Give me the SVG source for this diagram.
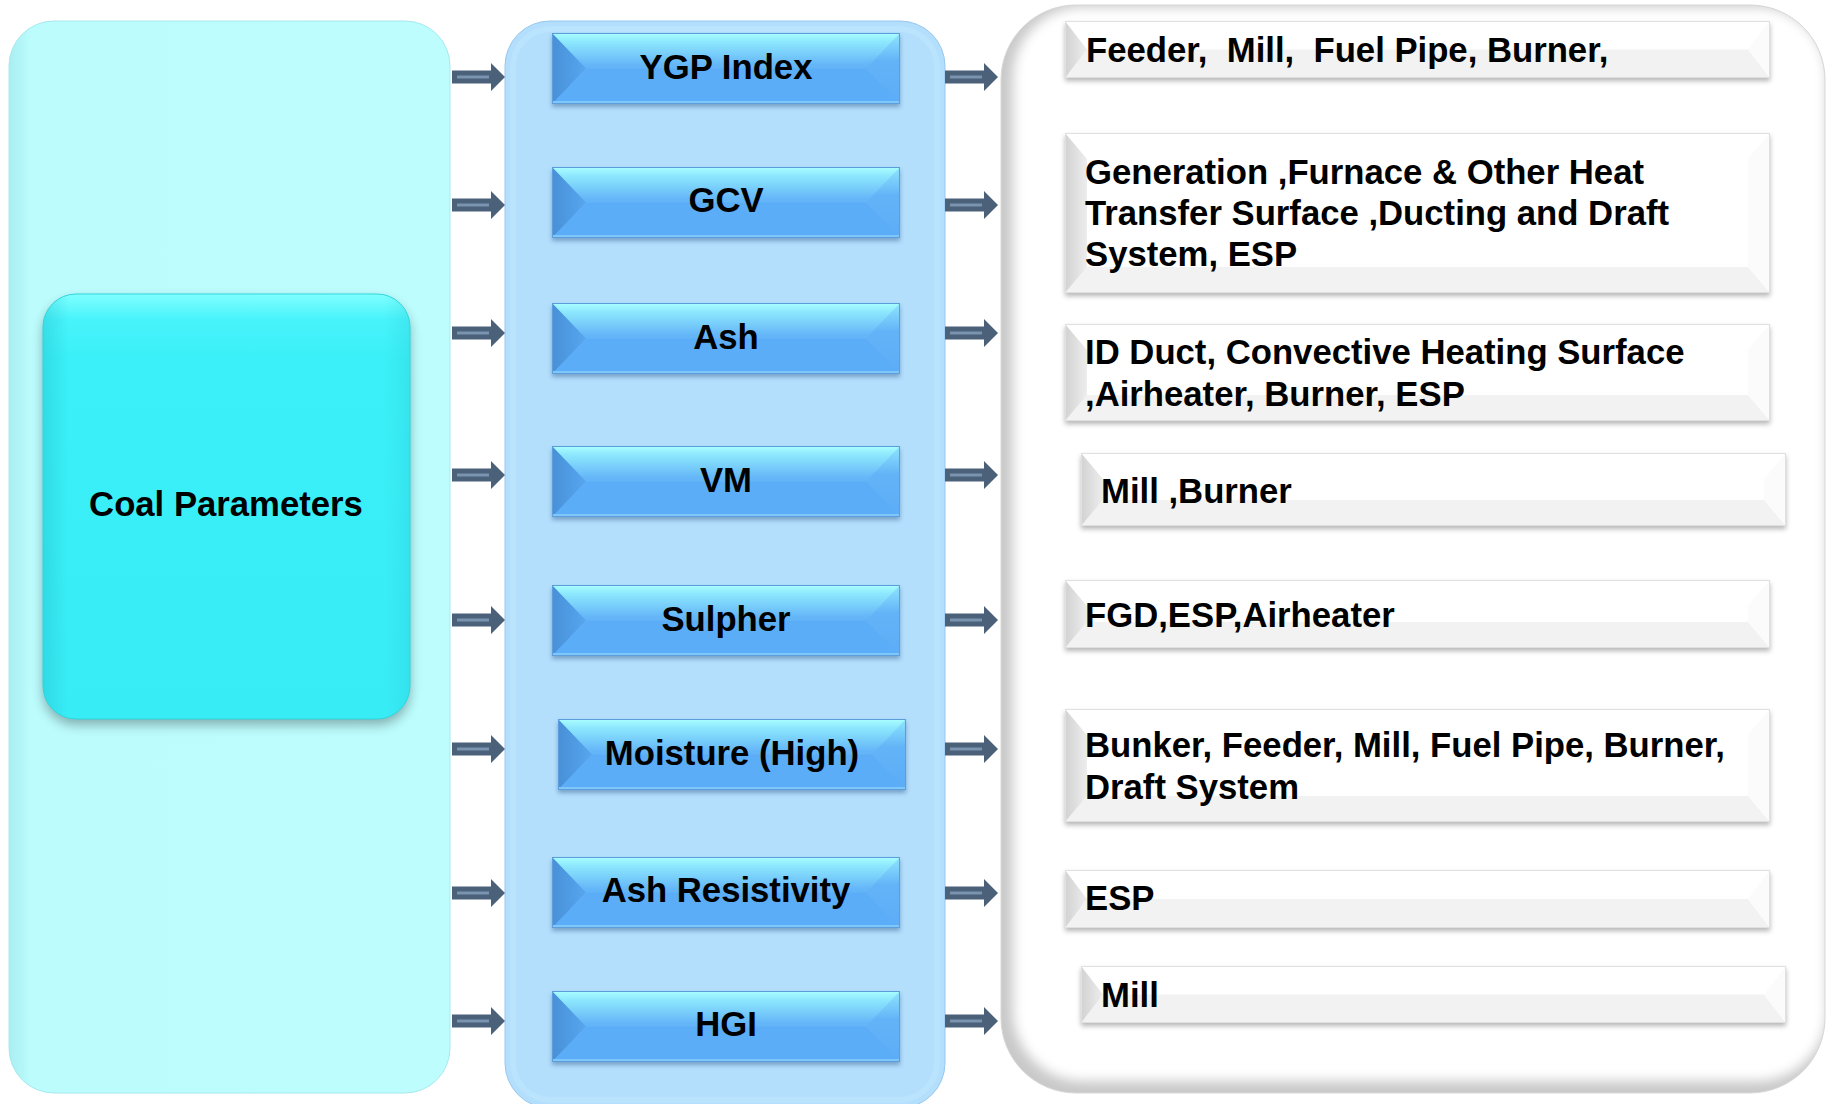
<svg xmlns="http://www.w3.org/2000/svg" xmlns:xlink="http://www.w3.org/1999/xlink" width="1827" height="1104" viewBox="0 0 1827 1104">
  <style>
    .lbl { font-family: "Liberation Sans", Arial, Helvetica, sans-serif; font-weight: 700; font-size: 34.7px; fill: #000; white-space: pre; }
    .mid { text-anchor: middle; }
    .wbase { fill: #ffffff; }
    .wbot { fill: #f2f2f2; }
    .wleft { fill: url(#gWL); }
    .wright { fill: #fbfbfb; }
    .wedge { fill: none; stroke: #e0e0e0; stroke-width: 1; }
    .wshadow { fill: #7a7a7a; opacity: 0.55; filter: url(#blur3); }
  </style>
  <defs>
    <filter id="blur2" x="-10%" y="-30%" width="120%" height="160%"><feGaussianBlur stdDeviation="2"/></filter>
    <filter id="blur3" x="-10%" y="-30%" width="120%" height="160%"><feGaussianBlur stdDeviation="2.5"/></filter>
    <filter id="blur6" x="-10%" y="-10%" width="120%" height="120%"><feGaussianBlur stdDeviation="6"/></filter>

    <!-- blue bevel buttons -->
    <linearGradient id="gBlue" x1="0" y1="0" x2="0" y2="1">
      <stop offset="0" stop-color="#abffff"/>
      <stop offset="0.12" stop-color="#8ee8fd"/>
      <stop offset="0.45" stop-color="#64b6f8"/>
      <stop offset="1" stop-color="#5aabf6"/>
    </linearGradient>
    <linearGradient id="gBlueL" x1="0" y1="0" x2="1" y2="0">
      <stop offset="0" stop-color="#4890d8"/>
      <stop offset="1" stop-color="#57a6ee"/>
    </linearGradient>
    <linearGradient id="gBlueR" x1="0" y1="0" x2="0" y2="1">
      <stop offset="0" stop-color="#8fe6fd"/>
      <stop offset="0.4" stop-color="#62b3f7"/>
      <stop offset="1" stop-color="#5cadf6"/>
    </linearGradient>
    <!-- white bevel boxes -->
    <linearGradient id="gWL" x1="0" y1="0" x2="1" y2="0">
      <stop offset="0" stop-color="#d2d2d2"/>
      <stop offset="1" stop-color="#ededed"/>
    </linearGradient>
    <!-- coal parameters tile -->
    <linearGradient id="gCoal" x1="0" y1="0" x2="0" y2="1">
      <stop offset="0" stop-color="#80ffff"/>
      <stop offset="0.06" stop-color="#48f3fb"/>
      <stop offset="0.15" stop-color="#3bf0f8"/>
      <stop offset="1" stop-color="#38ecf6"/>
    </linearGradient>
    <linearGradient id="gCoalSide" x1="0" y1="0" x2="1" y2="0">
      <stop offset="0" stop-color="#1fb8c4" stop-opacity="0.35"/>
      <stop offset="0.07" stop-color="#1fb8c4" stop-opacity="0"/>
      <stop offset="0.93" stop-color="#1fb8c4" stop-opacity="0"/>
      <stop offset="1" stop-color="#1fb8c4" stop-opacity="0.2"/>
    </linearGradient>
    <linearGradient id="gLeftPanel" x1="0" y1="0" x2="1" y2="0">
      <stop offset="0" stop-color="#a9eef2"/>
      <stop offset="0.05" stop-color="#bcfcfd"/>
      <stop offset="1" stop-color="#bdfdfd"/>
    </linearGradient>

    <clipPath id="clipRight">
      <rect x="1001" y="5" width="824" height="1088" rx="75"/>
    </clipPath>

    <!-- block arrow, tail at origin, centred on y=0 -->
    <g id="arrow">
      <path d="M0,-6.5 H39 V-14 L53,0 L39,14 V6.5 H0 Z" fill="#4b6079"/>
      <path d="M5,0 H37" stroke="#7a93b0" stroke-width="3" fill="none"/>
    </g>

    <!-- 348 x 71 bevelled button -->
    <g id="bluebox">
      <rect x="0" y="3" width="348" height="71" fill="#2f5a8a" opacity="0.45" filter="url(#blur2)"/>
      <rect x="0" y="0" width="348" height="71" fill="url(#gBlue)"/>
      <polygon points="0,0 34,35.5 0,71" fill="url(#gBlueL)"/>
      <polygon points="348,0 314,35.5 348,71" fill="url(#gBlueR)"/>
      <polygon points="0,71 34,35.5 314,35.5 348,71" fill="#5cadf7"/>
      <rect x="0" y="68" width="348" height="3" fill="#7fc7fb"/>
      <rect x="0.5" y="0.5" width="347" height="70" fill="none" stroke="#5b9edb" stroke-width="1"/>
    </g>
  </defs>

  <rect width="1827" height="1104" fill="#ffffff"/>

  <!-- column backgrounds -->
  <g id="panel-left">
    <rect x="9" y="21" width="441" height="1072" rx="45" fill="url(#gLeftPanel)" stroke="#a6e9ee" stroke-width="1"/>
  </g>
  <g id="panel-middle">
    <rect x="505" y="21" width="440" height="1087" rx="45" fill="#b3defc" stroke="#98c8ee" stroke-width="1"/>
    <rect x="513" y="29" width="424" height="1071" rx="38" fill="none" stroke="#bee5fe" stroke-width="6" opacity="0.7"/>
  </g>
  <g id="panel-right">
    <rect x="1001" y="5" width="824" height="1088" rx="75" fill="#c9c9c9"/>
    <g clip-path="url(#clipRight)">
      <rect x="1013" y="7" width="814" height="1074" rx="70" fill="#ffffff" filter="url(#blur6)"/>
    </g>
    <rect x="1001" y="5" width="824" height="1088" rx="75" fill="none" stroke="#d8d8d8" stroke-width="1"/>
  </g>

  <!-- source node -->
  <g id="n-coal">
    <rect x="43" y="300" width="367" height="425" rx="33" fill="#000" opacity="0.3" filter="url(#blur6)"/>
    <rect x="43" y="294" width="367" height="425" rx="33" fill="url(#gCoal)"/>
    <rect x="43" y="294" width="367" height="425" rx="33" fill="url(#gCoalSide)"/>
    <rect x="43" y="294" width="367" height="425" rx="33" fill="none" stroke="#2fd6e0" stroke-width="1"/>
    <text class="lbl mid" x="226" y="516">Coal Parameters</text>
  </g>

  <!-- parameter buttons -->
  <g id="n-ygp" transform="translate(552,33)">
    <use href="#bluebox"/>
    <text class="lbl mid" x="174" y="46">YGP Index</text>
  </g>
  <g id="n-gcv" transform="translate(552,167)">
    <use href="#bluebox"/>
    <text class="lbl mid" x="174" y="45">GCV</text>
  </g>
  <g id="n-ash" transform="translate(552,303)">
    <use href="#bluebox"/>
    <text class="lbl mid" x="174" y="46">Ash</text>
  </g>
  <g id="n-vm" transform="translate(552,446)">
    <use href="#bluebox"/>
    <text class="lbl mid" x="174" y="46">VM</text>
  </g>
  <g id="n-sulpher" transform="translate(552,585)">
    <use href="#bluebox"/>
    <text class="lbl mid" x="174" y="46">Sulpher</text>
  </g>
  <g id="n-moisture" transform="translate(558,719)">
    <use href="#bluebox"/>
    <text class="lbl mid" x="174" y="46">Moisture (High)</text>
  </g>
  <g id="n-ashres" transform="translate(552,857)">
    <use href="#bluebox"/>
    <text class="lbl mid" x="174" y="45">Ash Resistivity</text>
  </g>
  <g id="n-hgi" transform="translate(552,991)">
    <use href="#bluebox"/>
    <text class="lbl mid" x="174" y="45">HGI</text>
  </g>

  <!-- affected equipment boxes -->
  <g id="e-feeder" transform="translate(1065,21)">
    <rect class="wshadow" x="0" y="3" width="705" height="57"/>
    <rect class="wbase" width="705" height="57"/>
    <polygon class="wbot" points="0,57 705,57 683,28.5 22,28.5"/>
    <polygon class="wleft" points="0,0 22,28.5 0,57"/>
    <polygon class="wright" points="705,0 683,28.5 705,57"/>
    <rect class="wedge" x="0.5" y="0.5" width="704" height="56"/>
    <text class="lbl" x="21" y="41">Feeder,  Mill,  Fuel Pipe, Burner,</text>
  </g>
  <g id="e-generation" transform="translate(1065,133)">
    <rect class="wshadow" x="0" y="3" width="705" height="160"/>
    <rect class="wbase" width="705" height="160"/>
    <polygon class="wbot" points="0,160 705,160 683,134 22,134"/>
    <polygon class="wleft" points="0,0 22,26 22,134 0,160"/>
    <polygon class="wright" points="705,0 683,26 683,134 705,160"/>
    <rect class="wedge" x="0.5" y="0.5" width="704" height="159"/>
    <text class="lbl" x="20" y="51">Generation ,Furnace &amp; Other Heat</text>
    <text class="lbl" x="20" y="92">Transfer Surface ,Ducting and Draft</text>
    <text class="lbl" x="20" y="133">System, ESP</text>
  </g>
  <g id="e-idduct" transform="translate(1065,324)">
    <rect class="wshadow" x="0" y="3" width="705" height="97"/>
    <rect class="wbase" width="705" height="97"/>
    <polygon class="wbot" points="0,97 705,97 683,71 22,71"/>
    <polygon class="wleft" points="0,0 22,26 22,71 0,97"/>
    <polygon class="wright" points="705,0 683,26 683,71 705,97"/>
    <rect class="wedge" x="0.5" y="0.5" width="704" height="96"/>
    <text class="lbl" x="20" y="40">ID Duct, Convective Heating Surface</text>
    <text class="lbl" x="20" y="82">,Airheater, Burner, ESP</text>
  </g>
  <g id="e-millburner" transform="translate(1081,453)">
    <rect class="wshadow" x="0" y="3" width="705" height="73"/>
    <rect class="wbase" width="705" height="73"/>
    <polygon class="wbot" points="0,73 705,73 683,47 22,47"/>
    <polygon class="wleft" points="0,0 22,26 22,47 0,73"/>
    <polygon class="wright" points="705,0 683,26 683,47 705,73"/>
    <rect class="wedge" x="0.5" y="0.5" width="704" height="72"/>
    <text class="lbl" x="20" y="50">Mill ,Burner</text>
  </g>
  <g id="e-fgd" transform="translate(1065,580)">
    <rect class="wshadow" x="0" y="3" width="705" height="68"/>
    <rect class="wbase" width="705" height="68"/>
    <polygon class="wbot" points="0,68 705,68 683,42 22,42"/>
    <polygon class="wleft" points="0,0 22,26 22,42 0,68"/>
    <polygon class="wright" points="705,0 683,26 683,42 705,68"/>
    <rect class="wedge" x="0.5" y="0.5" width="704" height="67"/>
    <text class="lbl" x="20" y="47">FGD,ESP,Airheater</text>
  </g>
  <g id="e-bunker" transform="translate(1065,709)">
    <rect class="wshadow" x="0" y="3" width="705" height="113"/>
    <rect class="wbase" width="705" height="113"/>
    <polygon class="wbot" points="0,113 705,113 683,87 22,87"/>
    <polygon class="wleft" points="0,0 22,26 22,87 0,113"/>
    <polygon class="wright" points="705,0 683,26 683,87 705,113"/>
    <rect class="wedge" x="0.5" y="0.5" width="704" height="112"/>
    <text class="lbl" x="20" y="48">Bunker, Feeder, Mill, Fuel Pipe, Burner,</text>
    <text class="lbl" x="20" y="90">Draft System</text>
  </g>
  <g id="e-esp" transform="translate(1065,870)">
    <rect class="wshadow" x="0" y="3" width="705" height="58"/>
    <rect class="wbase" width="705" height="58"/>
    <polygon class="wbot" points="0,58 705,58 683,29 22,29"/>
    <polygon class="wleft" points="0,0 22,29 0,58"/>
    <polygon class="wright" points="705,0 683,29 705,58"/>
    <rect class="wedge" x="0.5" y="0.5" width="704" height="57"/>
    <text class="lbl" x="20" y="40">ESP</text>
  </g>
  <g id="e-mill" transform="translate(1081,966)">
    <rect class="wshadow" x="0" y="3" width="705" height="57"/>
    <rect class="wbase" width="705" height="57"/>
    <polygon class="wbot" points="0,57 705,57 683,28.5 22,28.5"/>
    <polygon class="wleft" points="0,0 22,28.5 0,57"/>
    <polygon class="wright" points="705,0 683,28.5 705,57"/>
    <rect class="wedge" x="0.5" y="0.5" width="704" height="56"/>
    <text class="lbl" x="20" y="41">Mill</text>
  </g>

  <!-- connectors -->
  <g id="connectors">
    <use href="#arrow" x="452" y="77"/>
    <use href="#arrow" x="452" y="205"/>
    <use href="#arrow" x="452" y="333"/>
    <use href="#arrow" x="452" y="475"/>
    <use href="#arrow" x="452" y="620"/>
    <use href="#arrow" x="452" y="749"/>
    <use href="#arrow" x="452" y="893"/>
    <use href="#arrow" x="452" y="1021"/>
    <use href="#arrow" x="945" y="77"/>
    <use href="#arrow" x="945" y="205"/>
    <use href="#arrow" x="945" y="333"/>
    <use href="#arrow" x="945" y="475"/>
    <use href="#arrow" x="945" y="620"/>
    <use href="#arrow" x="945" y="749"/>
    <use href="#arrow" x="945" y="893"/>
    <use href="#arrow" x="945" y="1021"/>
  </g>
</svg>
